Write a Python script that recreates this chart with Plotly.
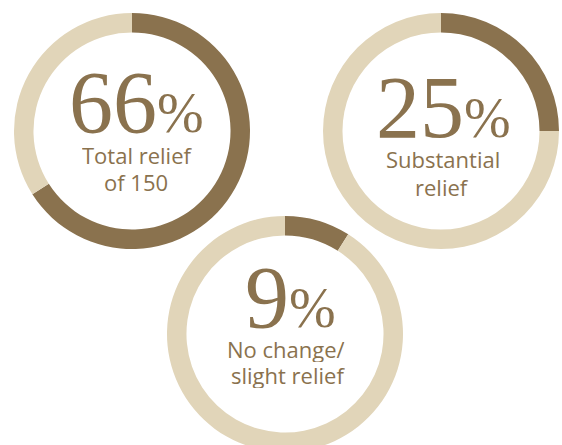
import plotly.graph_objects as go

# ---- data ----
percentages = [66, 25, 9]
big_labels = ["66", "25", "9"]
caption_line1 = ["Total relief", "Substantial", "No change/"]
caption_line2 = ["of 150", "relief", "slight relief"]

DARK = "#8A724E"
LIGHT = "#E1D5B9"

W, H = 562, 452
R = 118
centers = [(132, 131), (441, 131), (285, 334)]   # layout positions (px)
num_pos = [(136, 102), (443, 107), (290, 297)]
cap1_pos = [(137, 154.5), (443, 158.5), (286, 348.5)]
cap2_pos = [(136, 181.5), (442, 186.5), (288, 374.5)]


def px(x, y):
    return x / W, 1 - y / H


fig = go.Figure()
for pct, (cx, cy) in zip(percentages, centers):
    fig.add_trace(go.Pie(
        values=[pct, 100 - pct],
        labels=["share", "rest"],
        marker=dict(colors=[DARK, LIGHT], line=dict(width=0)),
        sort=False,
        direction="clockwise",
        rotation=0,
        hole=0.835,
        textinfo="none",
        hoverinfo="skip",
        showlegend=False,
        domain=dict(x=[max(0, (cx - R) / W), min(1, (cx + R) / W)],
                    y=[max(0, 1 - (cy + R) / H), min(1, 1 - (cy - R) / H)]),
    ))

annotations = []
for i in range(3):
    x, y = px(*num_pos[i])
    annotations.append(dict(
        x=x, y=y, xref="paper", yref="paper", xanchor="center", yanchor="middle",
        showarrow=False, height=68, borderpad=0, valign="middle",
        text=big_labels[i] + '<span style="font-size:56px">%</span>',
        font=dict(family="Liberation Serif", size=88, color=DARK),
    ))
    for txt, pos in ((caption_line1[i], cap1_pos[i]), (caption_line2[i], cap2_pos[i])):
        x, y = px(*pos)
        annotations.append(dict(
            x=x, y=y, xref="paper", yref="paper", xanchor="center", yanchor="middle",
            showarrow=False, text=txt, height=26, borderpad=0, valign="middle",
            font=dict(family="Open Sans", size=22, color=DARK),
        ))

fig.update_layout(
    width=W, height=H,
    margin=dict(l=0, r=0, t=0, b=0),
    paper_bgcolor="white",
    plot_bgcolor="white",
    annotations=annotations,
)

fig.write_html("out.html")
